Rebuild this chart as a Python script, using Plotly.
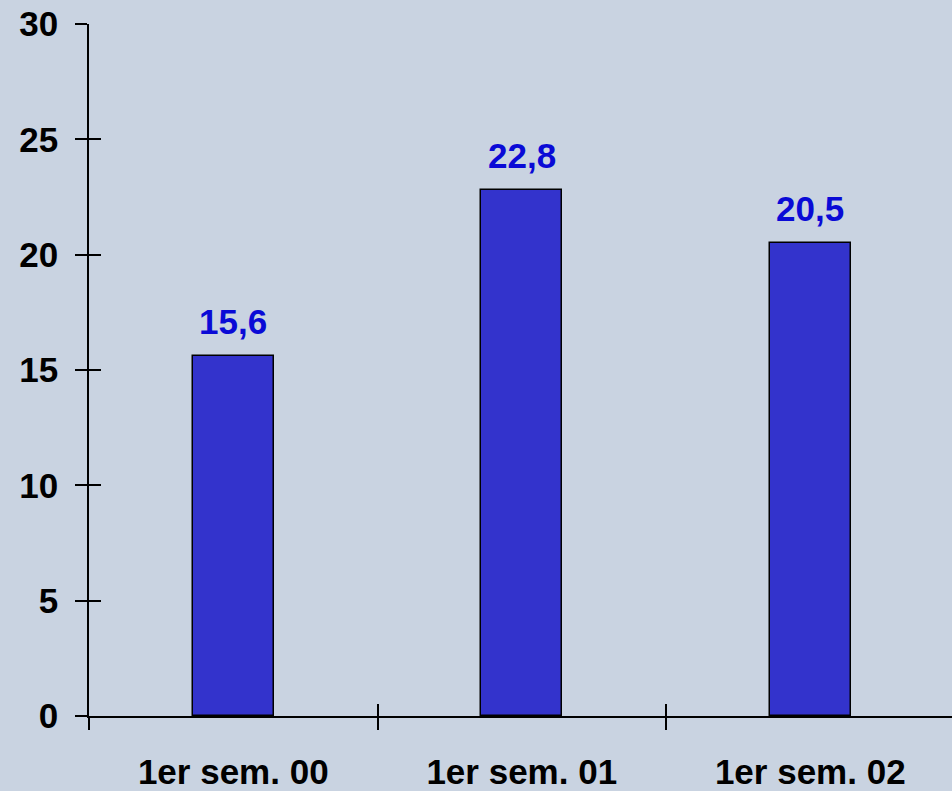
import plotly.graph_objects as go

categories = ["1er sem. 00", "1er sem. 01", "1er sem. 02"]
values = [15.6, 22.8, 20.5]
value_labels = ["15,6", "22,8", "20,5"]
y_ticks = [0, 5, 10, 15, 20, 25, 30]

BG = "#c9d3e1"
BAR = "#3333cc"
LABEL = "#0a0ad6"
FONT = "Liberation Sans, Arial, sans-serif"

fig = go.Figure()
fig.add_trace(go.Bar(
    x=categories, y=values, width=0.28,
    marker=dict(color=BAR, line=dict(color="black", width=1.5)),
    hoverinfo="skip", xaxis="x", yaxis="y",
))
# invisible twin trace to render crossing tick marks
fig.add_trace(go.Bar(
    x=categories, y=values, width=0.28, opacity=0,
    hoverinfo="skip", xaxis="x2", yaxis="y2", showlegend=False,
))

for c, v, t in zip(categories, values, value_labels):
    fig.add_annotation(
        x=c, y=v, text="<b>%s</b>" % t, showarrow=False,
        yanchor="bottom", yshift=13,
        font=dict(family=FONT, size=35, color=LABEL),
    )

xr = [-0.5, -0.5 + (952 - 89) / 288.5]
common_x = dict(type="category", range=xr, tickson="boundaries",
                ticklen=12, tickwidth=1.5, tickcolor="black",
                showgrid=False, zeroline=False, automargin=False)
common_y = dict(range=[0, 30], tickvals=y_ticks, ticklen=12, tickwidth=1.5,
                tickcolor="black", showgrid=False, zeroline=False,
                automargin=False)

fig.update_layout(
    width=952, height=791,
    margin=dict(l=89, r=0, t=24, b=75),
    paper_bgcolor=BG, plot_bgcolor=BG,
    showlegend=False, bargap=0,
    font=dict(family=FONT, size=35, color="black"),
    xaxis=dict(**common_x, ticks="outside", showline=True, linecolor="black",
               linewidth=1.5, ticklabelstandoff=24,
               tickfont=dict(family=FONT, size=35, color="black", weight="bold")),
    yaxis=dict(**common_y, ticks="outside", showline=True, linecolor="black",
               linewidth=1.5, ticklabelstandoff=10,
               tickfont=dict(family=FONT, size=35, color="black", weight="bold")),
    xaxis2=dict(**common_x, ticks="inside", overlaying="x", showticklabels=False,
                showline=False),
    yaxis2=dict(**common_y, ticks="inside", overlaying="y", showticklabels=False,
                showline=False),
)

fig.write_html("out.html")
